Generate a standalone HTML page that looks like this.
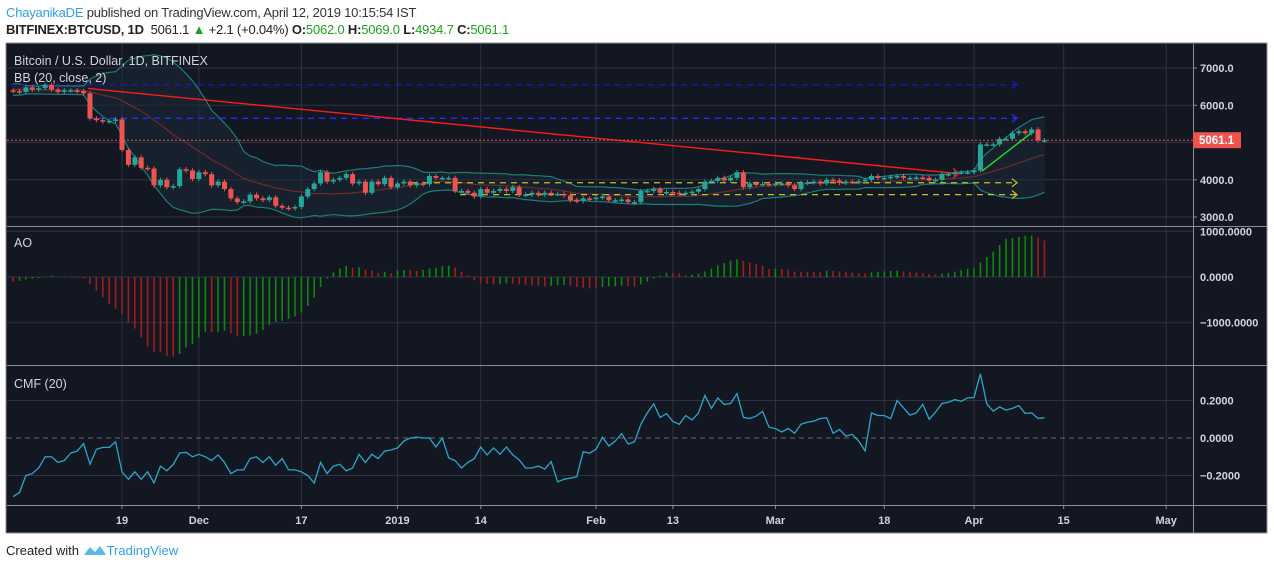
<!DOCTYPE html>
<html><head><meta charset="utf-8">
<style>
body{margin:0;width:1274px;height:569px;background:#fff;overflow:hidden;font-family:"Liberation Sans",sans-serif}
#hdr1{position:absolute;left:6px;top:5px;font-size:13px;color:#333;letter-spacing:-0.2px}
#hdr2{position:absolute;left:6px;top:22px;font-size:13px;color:#222;letter-spacing:-0.2px}
.g{color:#1aa31a}
#foot{position:absolute;left:6px;top:543px;font-size:13px;color:#222}
svg{position:absolute;left:0;top:0}
</style></head><body>
<div id="hdr1"><span style="color:#2f9ee8">ChayanikaDE</span> published on TradingView.com, April 12, 2019 10:15:54 IST</div>
<div id="hdr2"><b>BITFINEX:BTCUSD, 1D</b>&nbsp; 5061.1 <span class="g">▲</span> +2.1 (+0.04%) <b>O:</b><span class="g">5062.0</span> <b>H:</b><span class="g">5069.0</span> <b>L:</b><span class="g">4934.7</span> <b>C:</b><span class="g">5061.1</span></div>
<svg id="chart" width="1274" height="569"></svg>
<div id="foot">Created with <span style="color:#2f9ee8"><svg width="24" height="12" style="position:relative;top:1px" viewBox="0 0 24 12"><path d="M1 11 L7 3 L12 8 L17 2 L23 11 Z" fill="#5bb8ea"/></svg>TradingView</span></div>
<script>
// Data: Sep 24 .. Nov 1 2018 (warm-up) and Nov 2 2018 .. Apr 12 2019 daily closes
const priorCloses=[6600,6580,6520,6680,6620,6600,6620,6560,6520,6500,6580,6560,6600,6580,6600,6620,6560,6250,6250,6230,6300,6650,6500,6500,6450,6480,6460,6440,6400,6420,6430,6460,6440,6400,6350,6300,6330,6340,6400];
const closes=[6380,6360,6480,6420,6460,6550,6420,6360,6400,6400,6380,6320,5650,5600,5560,5580,5620,4800,4400,4600,4320,4300,3850,4000,3800,3830,4280,4250,4020,
4200,4150,3850,3950,3750,3500,3400,3420,3600,3500,3450,3530,3300,3250,3230,3270,3550,3750,3900,4200,3950,4000,4050,4150,3900,3950,3650,3950,3880,4050,3800,
3900,3950,3850,3900,3880,4100,4050,4050,4050,3700,3700,3650,3550,3750,3650,3700,3750,3700,3800,3600,3600,3650,3600,3650,3620,3620,3580,3450,3430,3500,3480,
3520,3550,3450,3450,3470,3400,3400,3700,3700,3750,3650,3670,3650,3620,3650,3680,3750,3950,3970,4050,3980,4050,4200,3800,3900,3880,3890,3880,
3900,3900,3850,3750,3920,3930,3950,3900,4000,3980,3920,3950,3940,3960,4000,4100,4050,4050,4080,4100,4050,4050,4060,4050,3980,4000,4150,4150,4200,4200,4200,
4250,4950,4950,4950,5100,5100,5250,5300,5250,5350,5060,5061];
const cmfValues=[-0.313,-0.29,-0.2,-0.19,-0.16,-0.1,-0.1,-0.13,-0.12,-0.08,-0.07,-0.03,-0.14,-0.06,-0.05,-0.05,-0.02,-0.18,-0.22,-0.18,
-0.22,-0.18,-0.24,-0.15,-0.175,-0.14,-0.08,-0.076,-0.1,-0.087,-0.1,-0.12,-0.09,-0.13,-0.19,-0.17,-0.17,-0.11,-0.1,-0.13,
-0.1,-0.145,-0.11,-0.17,-0.17,-0.18,-0.2,-0.24,-0.13,-0.19,-0.15,-0.14,-0.175,-0.16,-0.087,-0.13,-0.087,-0.11,-0.07,-0.064,
-0.053,-0.016,0,0.005,0,0,-0.048,0,-0.106,-0.12,-0.16,-0.13,-0.11,-0.048,-0.09,-0.053,-0.087,-0.048,-0.09,-0.117,
-0.16,-0.16,-0.15,-0.166,-0.126,-0.234,-0.22,-0.214,-0.207,-0.073,-0.081,-0.06,0.004,-0.042,-0.016,0.023,-0.032,-0.02,0.073,0.134,
0.182,0.11,0.13,0.088,0.073,0.12,0.096,0.134,0.227,0.158,0.214,0.179,0.184,0.237,0.11,0.104,0.117,0.142,0.058,0.05,
0.032,0.051,0.025,0.073,0.085,0.09,0.104,0.108,0.025,0.046,0.01,0.02,-0.016,-0.069,0.134,0.12,0.12,0.103,0.2,0.161,
0.122,0.134,0.179,0.1,0.138,0.184,0.191,0.205,0.196,0.214,0.216,0.343,0.182,0.143,0.166,0.149,0.158,0.173,0.131,0.134,0.104,0.108];
const priceTicks=[7000,6000,5000,4000,3000];
const priceTickLabels=["7000.0","6000.0","","4000.0","3000.0"];
const aoTicks=[1000,0,-1000];
const aoTickLabels=["1000.0000","0.0000","\u22121000.0000"];
const cmfTicks=[0.2,0,-0.2];
const cmfTickLabels=["0.2000","0.0000","\u22120.2000"];
const timeTickDays=[17,29,45,60,73,91,103,119,136,150,164,180];
const timeTickLabels=["19","Dec","17","2019","14","Feb","13","Mar","18","Apr","15","May"];
const lastPrice=5061.1;

const NS="http://www.w3.org/2000/svg";
const svg=document.getElementById('chart');
function el(tag,attrs,parent){const e=document.createElementNS(NS,tag);for(const k in attrs)e.setAttribute(k,attrs[k]);(parent||svg).appendChild(e);return e;}
const X0=13.1,DX=6.406,RIGHT=1193;
const xOf=i=>X0+i*DX;
const yP=p=>68+(7000-p)*0.03725;
const yA=v=>277-v*0.0457;
const yC=v=>438-v*187.5;

const frame=el('rect',{x:6,y:43,width:1261,height:490,fill:'#131722',stroke:'#8a8d96','stroke-width':1});


const grid=el('g',{stroke:'#2f3240','stroke-width':1});

timeTickDays.forEach(d=>{el('line',{x1:xOf(d),x2:xOf(d),y1:44,y2:505},grid);});
priceTicks.forEach(t=>el('line',{x1:7,x2:RIGHT,y1:yP(t),y2:yP(t)},grid));
el('line',{x1:7,x2:RIGHT,y1:yA(1000),y2:yA(1000)},grid);
el('line',{x1:7,x2:RIGHT,y1:yA(-1000),y2:yA(-1000)},grid);
el('line',{x1:7,x2:RIGHT,y1:yA(0),y2:yA(0)},grid);
el('line',{x1:7,x2:RIGHT,y1:yC(0.2),y2:yC(0.2)},grid);
el('line',{x1:7,x2:RIGHT,y1:yC(-0.2),y2:yC(-0.2)},grid);
const zl=el('line',{x1:7,x2:RIGHT,y1:yC(0),y2:yC(0),stroke:'#6b6b6b','stroke-dasharray':'5 4'});


[226.5,365.5,505.5].forEach(y=>{const s=el('line',{x1:7,x2:1267,y1:y,y2:y,stroke:'#8a8d96'});});
const vs=el('line',{x1:RIGHT+0.5,x2:RIGHT+0.5,y1:44,y2:533,stroke:'#8a8d96'});


const all=priorCloses.concat(closes);const off=priorCloses.length;
const up=[],lo=[],mid=[];
for(let i=0;i<closes.length;i++){const j=i+off;const w=all.slice(j-19,j+1);const m=w.reduce((a,b)=>a+b,0)/20;const sd=Math.sqrt(w.reduce((a,b)=>a+(b-m)*(b-m),0)/20);mid.push(m);up.push(m+2*sd);lo.push(m-2*sd);}
let fillD='M'+up.map((v,i)=>xOf(i)+','+yP(v)).join('L')+'L'+lo.map((v,i)=>xOf(i)+','+yP(v)).reverse().join('L')+'Z';
const bbf=el('path',{d:fillD,fill:'#1b2a36','fill-opacity':0.55});

const line=(arr,f)=>'M'+arr.map((v,i)=>xOf(i).toFixed(1)+','+f(v).toFixed(1)).join('L');
const bbu=el('path',{d:line(up,yP),fill:'none',stroke:'#1d7d78','stroke-width':1.2});

const bbl=el('path',{d:line(lo,yP),fill:'none',stroke:'#1d7d78','stroke-width':1.2});

const bbm=el('path',{d:line(mid,yP),fill:'none',stroke:'#6e2a2e','stroke-width':1.2});


function dashed(x1,y1,x2,color,name,dash){const g=el('g',{});
el('line',{x1:x1,x2:x2,y1:y1,y2:y1,stroke:color,'stroke-width':1.3,'stroke-dasharray':dash||'6 5'},g);
el('path',{d:`M${x2-4},${y1-4}L${x2+1},${y1}L${x2-4},${y1+4}`,fill:'none',stroke:color,'stroke-width':1.3},g);}
dashed(10,yP(6550),1016,'#1a1ab8','resistance-line-upper');
dashed(88,yP(5650),1016,'#1f2fff','resistance-line-lower');
dashed(412,yP(3920),1016,'#c8c020','support-line-upper');
dashed(460,yP(3600),1016,'#c8c020','support-line-lower');
const tl=el('g',{});
el('line',{x1:88,y1:yP(6450),x2:957,y2:yP(4170),stroke:'#ff1a1a','stroke-width':1.4},tl);
el('path',{d:`M${953},${yP(4170)-5}L${959},${yP(4170)}L${953},${yP(4170)+5}`,fill:'none',stroke:'#ff1a1a','stroke-width':1.3},tl);
const ga=el('g',{});
el('line',{x1:982,y1:yP(4230),x2:1031,y2:yP(5250),stroke:'#22dd22','stroke-width':1.4},ga);

const cg=el('g',{});
closes.forEach((c,i)=>{const o=i?closes[i-1]:priorCloses[priorCloses.length-1];const upC=c>=o;const col=upC?'#26a69a':'#ef5350';
const hi=Math.max(o,c)+60,lw=Math.min(o,c)-60;const x=xOf(i);
const g=el('g',{},cg);


el('line',{x1:x,x2:x,y1:yP(hi),y2:yP(lw),stroke:col,'stroke-width':1},g);
const t=yP(Math.max(o,c)),b=yP(Math.min(o,c));
el('rect',{x:x-2.5,y:t,width:5,height:Math.max(1.5,b-t),fill:col},g);});

const lp=el('line',{x1:7,x2:RIGHT,y1:yP(lastPrice),y2:yP(lastPrice),stroke:'#ef5350','stroke-dasharray':'2 2'});


const med=all;const ao=[];
for(let i=0;i<closes.length;i++){const j=i+off;const s5=med.slice(j-4,j+1).reduce((a,b)=>a+b,0)/5;const s34=med.slice(j-33,j+1).reduce((a,b)=>a+b,0)/34;ao.push(s5-s34);}
const ag=el('g',{});
ao.forEach((v,i)=>{const col=(i>0&&v>ao[i-1])?'#0b8a0b':'#a11d1d';const b=el('line',{x1:xOf(i),x2:xOf(i),y1:yA(0),y2:yA(v),stroke:col,'stroke-width':1.6},ag);

});

const cm=el('path',{d:line(cmfValues,yC),fill:'none',stroke:'#29a7c9','stroke-width':1.3});


function txt(x,y,s,name,opts){const t=el('text',Object.assign({x:x,y:y,fill:'#d1d4dc','font-size':12,'font-family':'Liberation Sans, sans-serif'},opts||{}));t.textContent=s;return t;}
txt(14,65,'Bitcoin / U.S. Dollar, 1D, BITFINEX','chart-title',{'font-size':12.5});
txt(14,82,'BB (20, close, 2)','bb-legend',{'font-size':12.5});
txt(14,247,'AO','ao-legend',{'font-size':12.5});
txt(14,388,'CMF (20)','cmf-legend',{'font-size':12.5});
priceTicks.forEach((t,k)=>{if(priceTickLabels[k]){el('line',{x1:RIGHT,x2:RIGHT+4,y1:yP(t),y2:yP(t),stroke:'#8a8d96'});txt(1200,yP(t)+4,priceTickLabels[k],'price-tick-label',{'font-weight':'bold','font-size':11});}});
aoTicks.forEach((t,k)=>txt(1200,yA(t)+4,aoTickLabels[k],'ao-tick-label',{'font-weight':'bold','font-size':11}));
cmfTicks.forEach((t,k)=>txt(1200,yC(t)+4,cmfTickLabels[k],'cmf-tick-label',{'font-weight':'bold','font-size':11}));
timeTickDays.forEach((d,k)=>{const x=xOf(d);el('line',{x1:x,x2:x,y1:505,y2:509,stroke:'#8a8d96'});txt(x,524,timeTickLabels[k],'time-tick-label',{'font-weight':'bold','font-size':11,'text-anchor':'middle'});});
const pb=el('rect',{x:RIGHT,y:yP(lastPrice)-8,width:48,height:16,fill:'#ef5350'});

txt(1199,yP(lastPrice)+4,'5061.1','last-price-label',{fill:'#fff','font-weight':'bold','font-size':11.5});
</script>
</body></html>
